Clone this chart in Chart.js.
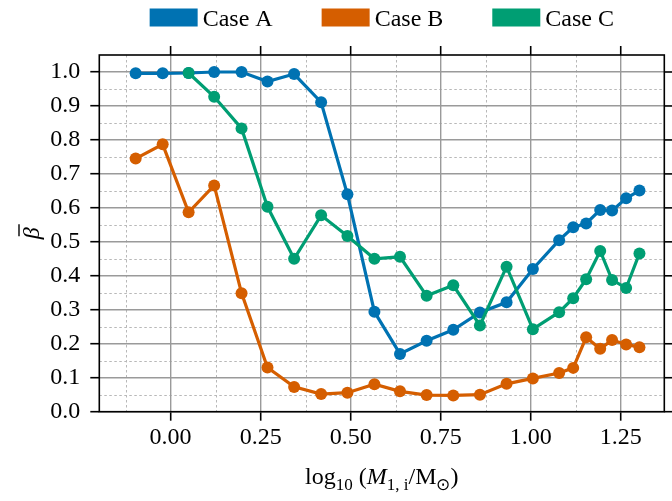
<!DOCTYPE html>
<html>
<head>
<meta charset="utf-8">
<script src="https://cdn.jsdelivr.net/npm/chart.js@4.4.1/dist/chart.umd.min.js"></script>
<style>
  html, body { margin: 0; padding: 0; background: #fff; }
</style>
</head>
<body>
<canvas id="chart" width="672" height="501"></canvas>
<script>
// log10 of initial primary mass
const logMass = [-0.097, -0.022, 0.050, 0.121, 0.197, 0.269, 0.343, 0.418, 0.491, 0.566, 0.637, 0.711,
  0.785, 0.859, 0.933, 1.006, 1.079, 1.118, 1.154, 1.193, 1.226, 1.265, 1.302];

const caseA = [0.996, 0.996, 0.997, 1.000, 1.000, 0.972, 0.994, 0.911, 0.640, 0.294, 0.170, 0.209,
  0.241, 0.292, 0.322, 0.420, 0.505, 0.543, 0.554, 0.594, 0.592, 0.628, 0.651];
const caseB = [0.745, 0.787, 0.587, 0.666, 0.349, 0.130, 0.073, 0.052, 0.056, 0.081, 0.060, 0.049,
  0.048, 0.050, 0.082, 0.098, 0.114, 0.129, 0.219, 0.185, 0.211, 0.198, 0.190];
const caseC = [null, null, 0.997, 0.927, 0.834, 0.603, 0.450, 0.578, 0.517, 0.450, 0.456, 0.341,
  0.372, 0.254, 0.427, 0.243, 0.293, 0.334, 0.390, 0.473, 0.388, 0.364, 0.466];

const seriesNames = ['Case A', 'Case B', 'Case C'];
const xTicks = [0, 0.25, 0.5, 0.75, 1.0, 1.25];
const yTicks = [0, 0.1, 0.2, 0.3, 0.4, 0.5, 0.6, 0.7, 0.8, 0.9, 1.0];
const xMinor = [-0.125, 0.125, 0.375, 0.625, 0.875, 1.125];
const yMinor = [0.05, 0.15, 0.25, 0.35, 0.45, 0.55, 0.65, 0.75, 0.85, 0.95];

const serif = "'Liberation Serif', 'Times New Roman', serif";
const colors = ['#0072B2', '#D55E00', '#009E73'];

const toPoints = ys => logMass.map((x, i) => ({ x, y: ys[i] }));

// dotted minor grid, under everything
const minorGrid = {
  id: 'minorGrid',
  beforeDraw(chart) {
    const { ctx, chartArea: a, scales: { x, y } } = chart;
    ctx.save();
    ctx.strokeStyle = '#b8b8b8';
    ctx.lineWidth = 1;
    ctx.setLineDash([2.5, 2.5]);
    xMinor.forEach(v => {
      const px = Math.round(x.getPixelForValue(v)) + 0.5;
      ctx.beginPath(); ctx.moveTo(px, a.top); ctx.lineTo(px, a.bottom); ctx.stroke();
    });
    yMinor.forEach(v => {
      const py = Math.round(y.getPixelForValue(v)) + 0.5;
      ctx.beginPath(); ctx.moveTo(a.left, py); ctx.lineTo(a.right, py); ctx.stroke();
    });
    ctx.restore();
  }
};

// box around the plot, mirrored ticks, legend and axis titles
const decorations = {
  id: 'decorations',
  afterDraw(chart) {
    const { ctx, chartArea: a, scales: { x, y } } = chart;
    ctx.save();
    ctx.strokeStyle = '#000';
    ctx.lineWidth = 1.6;
    ctx.strokeRect(a.left, a.top, a.right - a.left, a.bottom - a.top);
    xTicks.forEach(v => {
      const px = x.getPixelForValue(v);
      ctx.beginPath(); ctx.moveTo(px, a.top); ctx.lineTo(px, a.top - 9); ctx.stroke();
    });
    yTicks.forEach(v => {
      const py = y.getPixelForValue(v);
      ctx.beginPath(); ctx.moveTo(a.right, py); ctx.lineTo(a.right + 9, py); ctx.stroke();
    });

    // legend
    ctx.font = '24px ' + serif;
    ctx.textBaseline = 'alphabetic';
    const boxW = 48, boxH = 18, gapText = 5, gapItem = 49;
    const widths = seriesNames.map(n => boxW + gapText + ctx.measureText(n).width);
    const total = widths.reduce((s, w) => s + w, 0) + gapItem * (widths.length - 1);
    let lx = (a.left + a.right) / 2 - total / 2;
    chart.data.datasets.forEach((ds, i) => {
      ctx.fillStyle = ds.borderColor;
      ctx.fillRect(lx, 8.5, boxW, boxH);
      ctx.fillStyle = '#000';
      ctx.fillText(ds.label, lx + boxW + gapText, 26);
      lx += widths[i] + gapItem;
    });

    // x axis title: log10 (M1,i/M⊙)
    const big = '24px ' + serif, small = '17px ' + serif;
    const parts = [
      { t: 'log', f: big, dy: 0 },
      { t: '10', f: small, dy: 6 },
      { t: ' (', f: big, dy: 0 },
      { t: 'M', f: 'italic ' + big, dy: 0 },
      { t: '1, i', f: small, dy: 6 },
      { t: '/M', f: big, dy: 0 },
      { t: '\u2299', f: small, dy: 6 },
      { t: ')', f: big, dy: 0 }
    ];
    let w = 0;
    parts.forEach(p => { ctx.font = p.f; p.w = ctx.measureText(p.t).width; w += p.w; });
    let tx = (a.left + a.right) / 2 - w / 2;
    parts.forEach(p => {
      ctx.font = p.f;
      ctx.fillText(p.t, tx, 484 + p.dy);
      tx += p.w;
    });

    // y axis title: beta with a bar over it
    ctx.translate(39, (a.top + a.bottom) / 2);
    ctx.rotate(-Math.PI / 2);
    ctx.font = 'italic 24px ' + serif;
    const bw = ctx.measureText('\u03B2').width;
    ctx.fillText('\u03B2', -bw / 2, 0);
    ctx.lineWidth = 1.4;
    ctx.beginPath();
    ctx.moveTo(-bw / 2 + 3, -20);
    ctx.lineTo(bw / 2 + 3, -20);
    ctx.stroke();
    ctx.restore();
  }
};

const lineSet = (label, ys, color, order) => ({
  label,
  data: toPoints(ys),
  borderColor: color,
  backgroundColor: color,
  borderWidth: 3.2,
  pointRadius: 6,
  pointBorderWidth: 0,
  pointBackgroundColor: color,
  tension: 0,
  order
});

new Chart(document.getElementById('chart').getContext('2d'), {
  type: 'line',
  data: {
    datasets: [
      lineSet(seriesNames[0], caseA, colors[0], 2),
      lineSet(seriesNames[1], caseB, colors[1], 1),
      lineSet(seriesNames[2], caseC, colors[2], 0)
    ]
  },
  options: {
    responsive: false,
    animation: false,
    layout: { padding: { top: 55, right: 7.7, left: 0, bottom: 0 } },
    plugins: {
      legend: { display: false },
      tooltip: { enabled: false }
    },
    scales: {
      x: {
        type: 'linear',
        min: -0.198,
        max: 1.371,
        afterBuildTicks: s => { s.ticks = xTicks.map(v => ({ value: v })); },
        afterFit: s => { s.height = 89.3; },
        ticks: {
          callback: v => v.toFixed(2),
          font: { family: serif, size: 24 },
          color: '#000',
          padding: 3,
          maxRotation: 0,
          autoSkip: false
        },
        grid: { color: '#9a9a9a', lineWidth: 1.4, tickLength: 9, tickColor: '#000', tickWidth: 1.6 },
        border: { display: false }
      },
      y: {
        min: 0,
        max: 1.05,
        afterBuildTicks: s => { s.ticks = yTicks.map(v => ({ value: v })); },
        afterFit: s => { s.width = 99.3; },
        ticks: {
          callback: v => v.toFixed(1),
          font: { family: serif, size: 24 },
          color: '#000',
          padding: 10,
          autoSkip: false
        },
        grid: { color: '#9a9a9a', lineWidth: 1.4, tickLength: 9, tickColor: '#000', tickWidth: 1.6 },
        border: { display: false }
      }
    }
  },
  plugins: [minorGrid, decorations]
});
</script>
</body>
</html>
